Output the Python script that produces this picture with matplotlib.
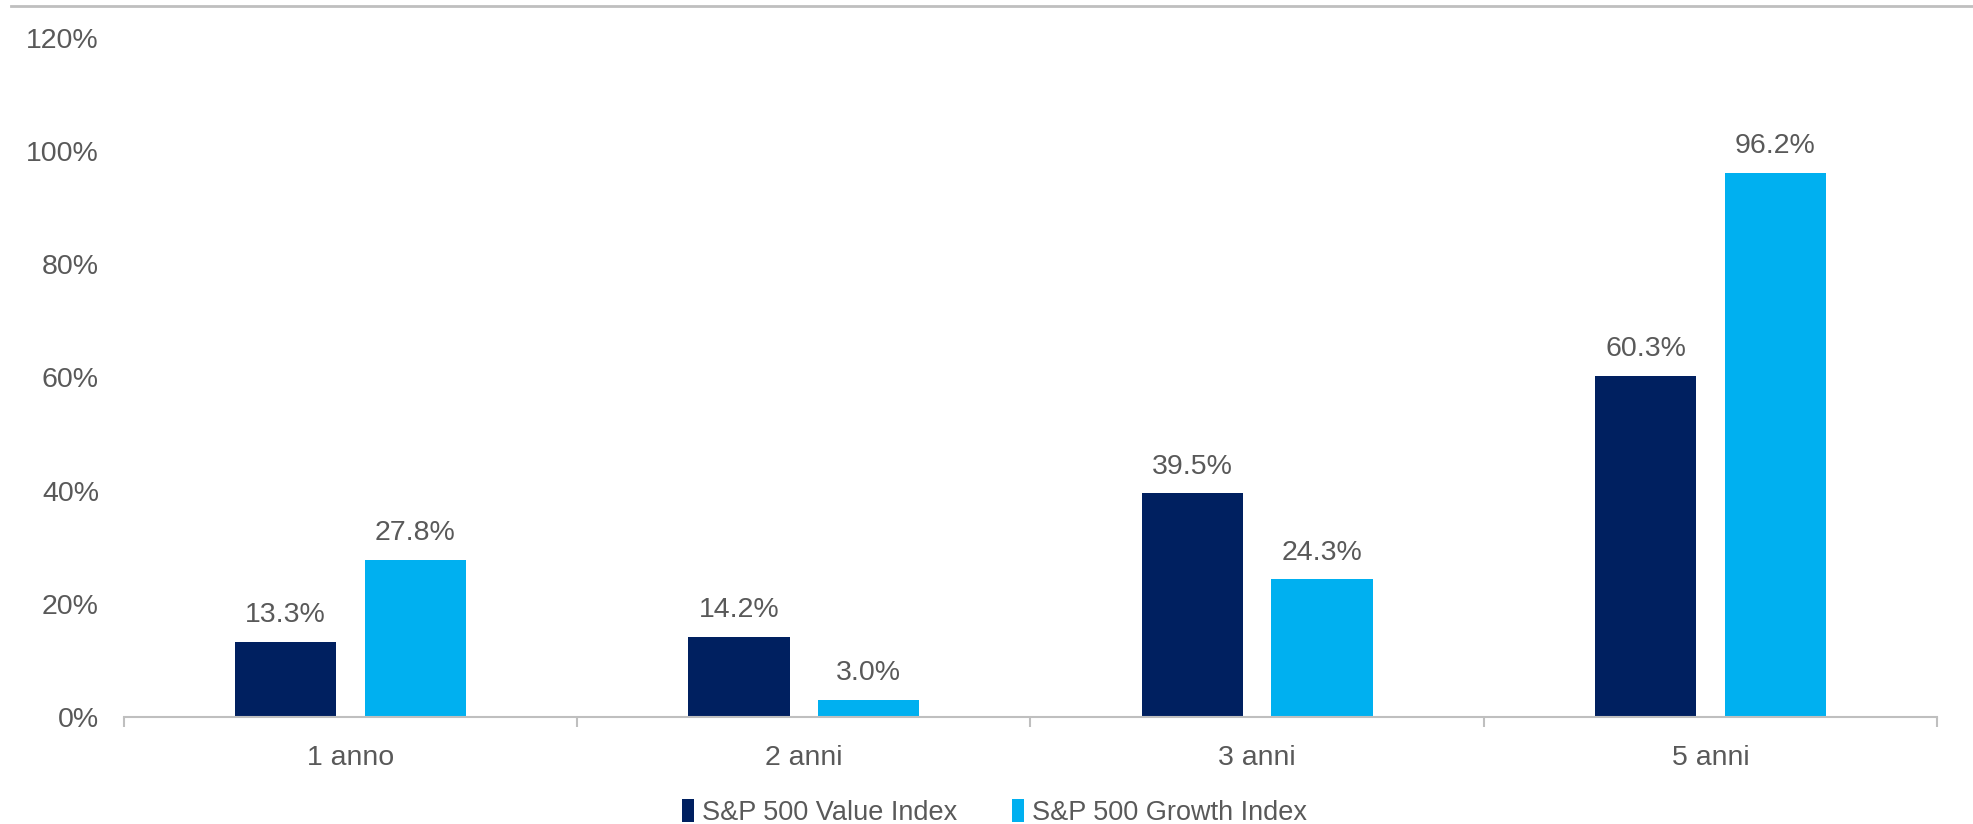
import numpy as np
import matplotlib.pyplot as plt
from matplotlib.lines import Line2D
from matplotlib.ticker import FuncFormatter, FixedLocator

plt.rcParams['font.family'] = ['Liberation Sans', 'DejaVu Sans']

# data
categories = ['1 anno', '2 anni', '3 anni', '5 anni']
value_index = [13.3, 14.2, 39.5, 60.3]
growth_index = [27.8, 3.0, 24.3, 96.2]
series_names = ['S&P 500 Value Index', 'S&P 500 Growth Index']

navy = '#002060'
sky = '#00B0F0'
grey_txt = '#595959'
axis_col = '#BFBFBF'
fs = 20.5

fig = plt.figure(figsize=(19.73, 8.24), dpi=100)
ax = fig.add_axes([0.0628, 0.1299, 0.919, 0.824])

x = np.arange(len(categories))
w = 0.223
off = 0.143
b1 = ax.bar(x - off, value_index, w, color=navy, label=series_names[0])
b2 = ax.bar(x + off, growth_index, w, color=sky, label=series_names[1])

for bars, vals in ((b1, value_index), (b2, growth_index)):
    for r, v in zip(bars, vals):
        ax.annotate(f'{v:.1f}%', (r.get_x() + r.get_width() / 2, v),
                    xytext=(0, 10), textcoords='offset points',
                    ha='center', va='bottom', fontsize=fs, color=grey_txt)

ax.set_xlim(-0.5, len(categories) - 0.5)
ax.set_ylim(0, 120)
ax.set_yticks(np.arange(0, 121, 20))
ax.yaxis.set_major_formatter(FuncFormatter(lambda v, p: f'{v:.0f}%'))
ax.set_xticks(x)
ax.set_xticklabels(categories)
ax.xaxis.set_minor_locator(FixedLocator(np.arange(-0.5, len(categories), 1)))

for s in ('top', 'right', 'left'):
    ax.spines[s].set_visible(False)
ax.spines['bottom'].set_color(axis_col)
ax.spines['bottom'].set_linewidth(1.5)

ax.tick_params(axis='y', length=0, labelsize=fs, labelcolor=grey_txt, pad=18)
ax.tick_params(axis='x', which='major', length=0, labelsize=fs, labelcolor=grey_txt, pad=20)
ax.tick_params(axis='x', which='minor', length=7, width=1.5, color=axis_col)

fig.add_artist(Line2D([11 / 1973, 1], [1 - 6 / 824, 1 - 6 / 824],
                      transform=fig.transFigure, color=axis_col, lw=2))

leg = fig.legend(loc='center', bbox_to_anchor=(0.504, 0.014), ncol=2, frameon=False,
                 fontsize=19.5, handlelength=0.45, handleheight=0.9, handletextpad=0.3,
                 columnspacing=2.0, labelcolor=grey_txt)

fig.savefig('out.png', dpi=100)
